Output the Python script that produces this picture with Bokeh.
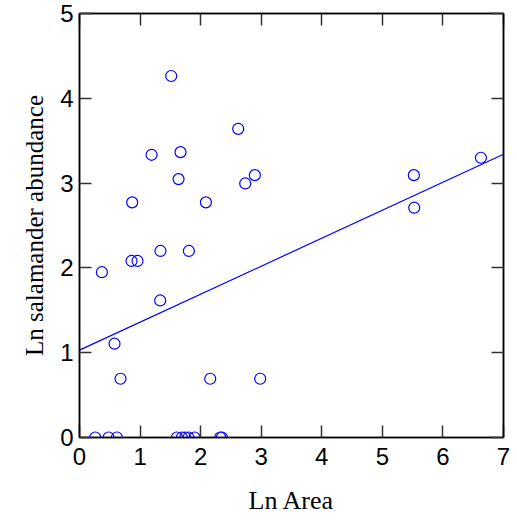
from bokeh.plotting import figure
from bokeh.models import LinearAxis, Range1d, FixedTicker
from bokeh.embed import file_html
from bokeh.resources import INLINE

# Data
ln_area = [1.514, 2.62, 1.19, 1.668, 2.895, 5.52, 6.627, 1.635, 2.736, 0.87,
           2.087, 5.526, 1.337, 1.806, 0.859, 0.958, 0.37, 1.332, 0.578,
           0.677, 2.158, 2.983,
           0.259, 0.48, 0.617, 1.608, 1.69, 1.745, 1.80, 1.899, 2.323, 2.351]
ln_abund = [4.263, 3.64, 3.334, 3.365, 3.094, 3.094, 3.299, 3.047, 2.996, 2.773,
            2.773, 2.71, 2.2, 2.2, 2.082, 2.082, 1.949, 1.616, 1.106,
            0.693, 0.693, 0.693,
            0.0, 0.0, 0.0, 0.0, 0.0, 0.0, 0.0, 0.0, 0.0, 0.0]
fit_x = [0.0, 7.0]
fit_y = [1.03, 3.34]
x_ticks = [0, 1, 2, 3, 4, 5, 6, 7]
y_ticks = [0, 1, 2, 3, 4, 5]

p = figure(width=517, height=527, output_backend="svg", toolbar_location=None,
           x_range=Range1d(0, 7), y_range=Range1d(0, 5),
           x_axis_label="Ln Area", y_axis_label="Ln salamander abundance")
p.min_border_left = 79
p.min_border_right = 14
p.min_border_top = 13
p.min_border_bottom = 90
p.grid.visible = False
p.outline_line_color = "black"
p.outline_line_width = 1.5
p.background_fill_color = "white"
p.border_fill_color = "white"

p.line(fit_x, fit_y, line_color="blue", line_width=1.2)
p.scatter(ln_area, ln_abund, marker="circle", size=11, fill_color=None,
          line_color="blue", line_width=1.2)

def style(ax, ticks, show_labels=True):
    ax.ticker = FixedTicker(ticks=ticks)
    ax.axis_line_color = "black"
    ax.axis_line_width = 1.5
    ax.major_tick_in = 12
    ax.major_tick_out = 0
    ax.major_tick_line_color = "#333333"
    ax.major_tick_line_width = 1.5
    ax.minor_tick_line_color = None
    ax.major_label_text_font = "Liberation Sans"
    if show_labels:
        ax.major_label_text_font_size = "24px"
        ax.major_label_text_color = "black"
    else:
        ax.major_label_text_font_size = "0px"
        ax.major_label_text_color = None
        ax.major_label_text_alpha = 0
    ax.axis_label_text_font = "Liberation Serif"
    ax.axis_label_text_font_size = "25px"
    ax.axis_label_text_font_style = "normal"
    ax.axis_label_text_color = "black"

style(p.xaxis[0], x_ticks)
style(p.yaxis[0], y_ticks)
p.xaxis[0].axis_label_text_font_size = "26px"
p.xaxis[0].major_label_standoff = 10
p.xaxis[0].axis_label_standoff = 18
p.yaxis[0].major_label_standoff = 6
p.yaxis[0].axis_label_standoff = 9

top = LinearAxis()
style(top, x_ticks, show_labels=False)
top.major_label_standoff = 0
p.add_layout(top, "above")
right = LinearAxis()
style(right, y_ticks, show_labels=False)
right.major_label_standoff = 0
p.add_layout(right, "right")

open("out.html", "w").write(file_html(p, INLINE))
